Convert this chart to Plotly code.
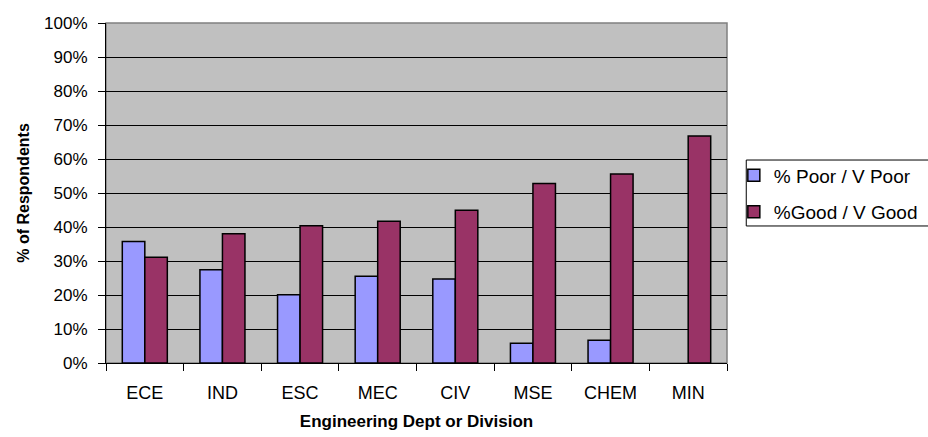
import plotly.graph_objects as go

# Survey results by engineering department
departments = ["ECE", "IND", "ESC", "MEC", "CIV", "MSE", "CHEM", "MIN"]
poor_pct = [35.7, 27.4, 20.1, 25.5, 24.7, 5.8, 6.7, None]
good_pct = [31.1, 38.0, 40.4, 41.7, 44.9, 52.8, 55.6, 66.8]
y_ticks = [0, 10, 20, 30, 40, 50, 60, 70, 80, 90, 100]
y_tick_labels = [f"{v}%" for v in y_ticks]

FONT = "Liberation Sans, Arial, sans-serif"

fig = go.Figure()
fig.add_trace(go.Bar(
    x=departments, y=poor_pct, name="% Poor / V Poor",
    marker=dict(color="#9999FF", line=dict(color="#000000", width=1.5)),
    legendgroup="a",
))
fig.add_trace(go.Bar(
    x=departments, y=good_pct, name="%Good / V Good",
    marker=dict(color="#993366", line=dict(color="#000000", width=1.5)),
    legendgroup="b",
))

# plot-area frame (grey on the open sides)
fig.add_shape(type="rect", xref="paper", yref="paper", x0=0, y0=0, x1=1, y1=1,
              line=dict(color="#808080", width=1.5), layer="below")
# legend frame
fig.add_shape(type="rect", xref="paper", yref="paper",
              x0=1.031, x1=1.36, y0=0.403, y1=0.597,
              line=dict(color="#000000", width=1), fillcolor="rgba(0,0,0,0)")

fig.update_layout(
    width=928, height=437,
    margin=dict(l=106, r=201, t=23, b=74, autoexpand=False),
    paper_bgcolor="white",
    plot_bgcolor="#C0C0C0",
    barmode="group",
    bargap=0.42,
    bargroupgap=0,
    font=dict(family=FONT, size=17, color="#000000"),
    showlegend=True,
    legend=dict(
        x=1.011, xanchor="left", y=0.608, yanchor="top",
        borderwidth=0, bgcolor="rgba(0,0,0,0)",
        font=dict(family=FONT, size=19),
        tracegroupgap=9,
    ),
    xaxis=dict(
        automargin=False,
        showline=True, linecolor="#000000", linewidth=1,
        ticks="outside", ticklen=7, tickcolor="#000000",
        tickson="boundaries",
        tickfont=dict(family=FONT, size=18),
        ticklabelstandoff=13,
        title=dict(text="<b>Engineering Dept or Division</b>",
                   font=dict(family=FONT, size=17), standoff=13),
        showgrid=False,
    ),
    yaxis=dict(
        automargin=False,
        range=[0, 100],
        tickvals=y_ticks, ticktext=y_tick_labels,
        showline=True, linecolor="#000000", linewidth=1,
        ticks="outside", ticklen=7, tickcolor="#000000",
        tickfont=dict(family=FONT, size=17),
        ticklabelstandoff=7,
        showgrid=True, gridcolor="#000000", gridwidth=1,
        zeroline=False,
        title=dict(text="<b>% of Respondents</b>",
                   font=dict(family=FONT, size=16), standoff=10),
    ),
)

fig.write_html("out.html")
